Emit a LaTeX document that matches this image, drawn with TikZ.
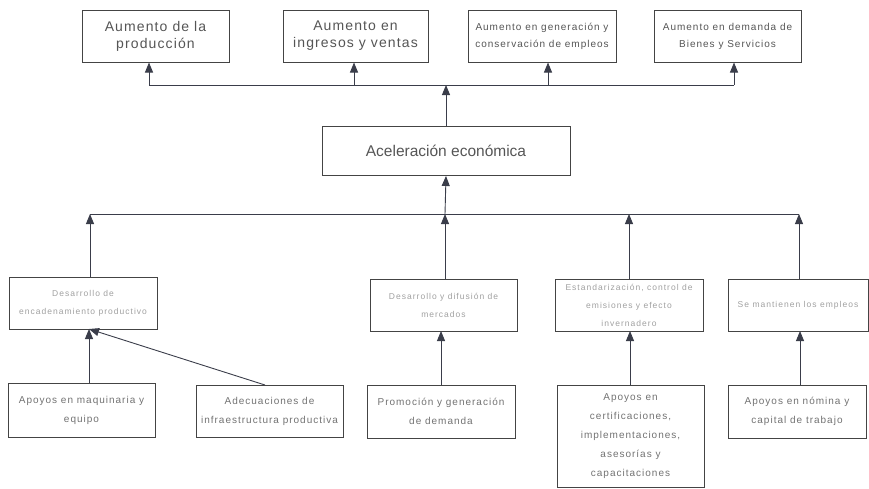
\documentclass[tikz,border=0pt]{standalone}
\usepackage{fontspec}
\setmainfont{Liberation Sans}
\newfontfamily\spA[LetterSpace=8]{Liberation Sans}
\newfontfamily\spB[LetterSpace=10]{Liberation Sans}
\newfontfamily\spC[LetterSpace=12]{Liberation Sans}
\usetikzlibrary{arrows.meta}
\definecolor{boxline}{HTML}{444444}
\definecolor{conn}{HTML}{3A3D4A}
\definecolor{txtA}{HTML}{555555}
\definecolor{txtB}{HTML}{A0A0A0}
\definecolor{txtC}{HTML}{727272}
\begin{document}
\begin{tikzpicture}[x=1pt,y=-1pt,
  box/.style={draw=boxline,line width=1pt,rectangle,inner sep=0pt,align=center},
  topbig/.style={box,text=txtA,font=\spA\fontsize{14}{17}\selectfont},
  topsmall/.style={box,text=txtA,font=\spB\fontsize{10}{17}\selectfont},
  mainbox/.style={box,text=txtA,font=\fontsize{15.5}{18}\selectfont},
  midbox/.style={box,text=txtB,font=\spC\fontsize{8.5}{18}\selectfont},
  lowbox/.style={box,text=txtC,font=\spB\fontsize{10}{19}\selectfont},
  conline/.style={draw=conn,line width=0.9pt},
  arr/.style={conline,-{Triangle[length=10pt,width=8pt]}}]
\useasboundingbox (0,0) rectangle (869,488);

% top row
\node[topbig,minimum width=147pt,minimum height=52pt] (t1) at (155.5,36) {Aumento de la\\producción};
\node[topbig,minimum width=145pt,minimum height=52pt] (t2) at (355.5,36) {Aumento en\\ingresos y ventas};
\node[topsmall,minimum width=148pt,minimum height=52pt] (t3) at (542,36) {Aumento en generación y\\conservación de empleos};
\node[topsmall,minimum width=147pt,minimum height=52pt] (t4) at (727.5,36) {Aumento en demanda de\\Bienes y Servicios};

% central
\node[mainbox,minimum width=248pt,minimum height=49pt] (ace) at (446,151) {Aceleración económica};

% middle row
\node[midbox,minimum width=148pt,minimum height=52pt] (m1) at (83,303) {Desarrollo de\\encadenamiento productivo};
\node[midbox,minimum width=147pt,minimum height=52pt] (m2) at (443.5,305) {Desarrollo y difusión de\\mercados};
\node[midbox,minimum width=148pt,minimum height=52pt] (m3) at (629,305) {Estandarización, control de\\emisiones y efecto\\invernadero};
\node[midbox,minimum width=140pt,minimum height=52pt] (m4) at (798,305) {Se mantienen los empleos};

% bottom row
\node[lowbox,minimum width=147pt,minimum height=54pt] (b1) at (81.5,410) {Apoyos en maquinaria y\\equipo};
\node[lowbox,minimum width=147pt,minimum height=52pt] (b2) at (269.5,411) {Adecuaciones de\\infraestructura productiva};
\node[lowbox,minimum width=148pt,minimum height=53pt] (b3) at (441,411.5) {Promoción y generación\\de demanda};
\node[lowbox,minimum width=147pt,minimum height=102pt] (b4) at (630.5,436) {Apoyos en\\certificaciones,\\implementaciones,\\asesorías y\\capacitaciones};
\node[lowbox,minimum width=138pt,minimum height=53pt] (b5) at (797,411.5) {Apoyos en nómina y\\capital de trabajo};

% upper bus
\coordinate (ub1) at (149,85);
\coordinate (ub2) at (354,85);
\coordinate (ub3) at (548,85);
\coordinate (ub4) at (734,85);
\coordinate (ubc) at (446,85);
\draw[conline] (ub1) -- (ub4);
\draw[arr] (ub1) -- (ub1 |- t1.south);
\draw[arr] (ub2) -- (ub2 |- t2.south);
\draw[arr] (ub3) -- (ub3 |- t3.south);
\draw[arr] (ub4) -- (ub4 |- t4.south);
\draw[arr] (ace.north) -- (ubc);

% lower bus
\coordinate (lb1) at (90,214);
\coordinate (lb2) at (445,214);
\coordinate (lb3) at (629,214);
\coordinate (lb4) at (799,214);
\draw[conline] (lb1) -- (lb4);
\draw[arr] (lb2) -- (ace.south);
\draw[arr] (lb1 |- m1.north) -- (lb1);
\draw[arr] (lb2 |- m2.north) -- (lb2);
\draw[arr] (lb3 |- m3.north) -- (lb3);
\draw[arr] (lb4 |- m4.north) -- (lb4);

% bottom arrows
\coordinate (a1) at (89,329);
\coordinate (a3) at (441,331);
\coordinate (a4) at (630,331);
\coordinate (a5) at (800,331);
\draw[arr] (a1 |- b1.north) -- (a1);
\draw[arr] (265,385) -- (a1);
\draw[arr] (a3 |- b3.north) -- (a3);
\draw[arr] (a4 |- b4.north) -- (a4);
\draw[arr] (a5 |- b5.north) -- (a5);
\end{tikzpicture}
\end{document}
